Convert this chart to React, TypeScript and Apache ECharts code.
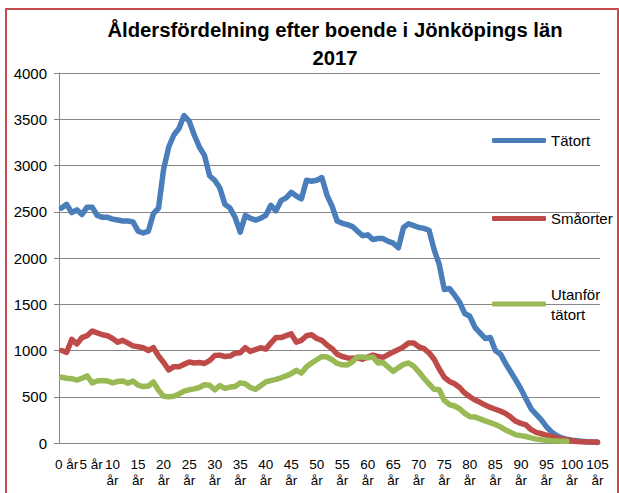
import React, { useEffect, useRef } from "react";
import * as echarts from "echarts";

const ages: number[] = Array.from({ length: 106 }, (_, i) => i);
const categories: string[] = ages.map((a) => `${a} år`);

const tatort: number[] = [
  2540, 2580, 2490, 2520, 2470, 2550, 2550, 2460, 2440, 2440,
  2420, 2410, 2400, 2400, 2390, 2290, 2270, 2290, 2480, 2540,
  2960, 3200, 3330, 3400, 3540, 3480, 3330, 3200, 3110, 2890,
  2840, 2760, 2580, 2540, 2440, 2280, 2460, 2430, 2410, 2430,
  2460, 2570, 2510, 2620, 2650, 2710, 2670, 2640, 2840, 2830,
  2840, 2870, 2680, 2560, 2400, 2375, 2360, 2340, 2290, 2240,
  2250, 2200, 2210, 2210, 2180, 2160, 2110, 2330, 2370, 2350,
  2330, 2320, 2300, 2090, 1930, 1660, 1670, 1600, 1520, 1400,
  1370, 1250, 1190, 1130, 1140, 1000, 960, 860, 770, 680,
  585, 475, 370, 310, 250, 176, 120, 80, 55, 40,
  30, 25, 18, 14, 10, 6,
];

const smaorter: number[] = [
  1000, 980, 1120, 1070, 1140, 1160, 1210, 1190, 1170, 1160,
  1130, 1090, 1110, 1080, 1050, 1040, 1030, 1000, 1030, 940,
  870, 790, 825, 825, 850, 875, 865, 870, 860, 890,
  945, 950, 935, 940, 970, 975, 1030, 990, 1010, 1030,
  1015, 1080, 1140, 1140, 1160, 1180, 1090, 1110, 1160, 1170,
  1130, 1110, 1060, 1020, 960, 935, 920, 915, 920, 905,
  930, 950, 935, 926, 955, 985, 1010, 1040, 1080, 1080,
  1040, 1020, 975, 905, 800, 710, 665, 640, 600, 540,
  500, 465, 440, 410, 385, 365, 345, 320, 280, 235,
  212, 195, 145, 115, 100, 86, 70, 58, 45, 33,
  25, 16, 13, 11, 10, 10,
];

const utanfor: (number | null)[] = [
  710, 700, 695, 680, 700, 725, 650, 670, 675, 670,
  650, 665, 670, 645, 670, 625, 610, 615, 660, 570,
  505, 500, 505, 530, 560, 575, 585, 600, 630, 625,
  575, 620, 590, 605, 610, 650, 640, 600, 580, 620,
  660, 675, 688, 705, 725, 750, 785, 755, 825, 865,
  900, 935, 930, 900, 860, 845, 843, 880, 930, 930,
  920, 930, 865, 869, 820, 775, 815, 850, 865, 830,
  770, 700, 640, 580, 575, 460, 415, 400, 370, 320,
  285, 280, 260, 240, 220, 200, 175, 140, 115, 88,
  80, 70, 55, 42, 35, 30, 25, 22, 20, 18,
  null, null, null, null, null, null,
];

const seriesNames: string[] = ["Tätort", "Småorter", "Utanför tätort"];
const yTicks = { min: 0, max: 4000, interval: 500 };

export default function App() {
  const ref = useRef<HTMLDivElement>(null);

  useEffect(() => {
    if (!ref.current) return;
    const chart = echarts.init(ref.current, undefined, { renderer: "svg" });
    const font = "Liberation Sans";
    const lineSeries = (name: string, data: (number | null)[], color: string) => ({
      name,
      type: "line",
      xAxisIndex: 0,
      data,
      symbol: "none",
      connectNulls: false,
      lineStyle: { width: 5.5, color, cap: "round", join: "round" },
      itemStyle: { color },
    });
    const legendBase = {
      left: 487,
      orient: "vertical",
      icon: "roundRect",
      itemWidth: 54,
      itemHeight: 5,
      textStyle: { fontFamily: font, fontSize: 15, color: "#000" },
    };
    const labelBase = { fontFamily: font, fontSize: 13.5, color: "#000" };
    chart.setOption({
      animation: false,
      title: {
        text: "Åldersfördelning efter boende i Jönköpings län\n2017",
        left: 330,
        top: 11,
        textAlign: "center",
        textStyle: {
          fontFamily: font,
          fontSize: 20.3,
          fontWeight: "bold",
          color: "#000",
          lineHeight: 28,
        },
      },
      legend: [
        { ...legendBase, top: 128, data: [seriesNames[0]] },
        { ...legendBase, top: 206, data: [seriesNames[1]] },
        {
          ...legendBase,
          top: 269,
          data: [seriesNames[2]],
          formatter: () => "Utanför\ntätort",
          textStyle: {
            fontFamily: font,
            fontSize: 15,
            color: "#000",
            lineHeight: 20,
            padding: [20, 0, 0, 0],
          },
        },
      ],
      grid: { left: 59, right: 19, top: 73, bottom: 50 },
      xAxis: [
        {
          type: "category",
          data: categories,
          boundaryGap: true,
          axisLine: { lineStyle: { color: "#868686", width: 1 } },
          axisTick: { interval: 0, length: 4, lineStyle: { color: "#868686" } },
          axisLabel: {
            ...labelBase,
            interval: (idx: number) => idx > 0 && idx % 5 === 0,
            margin: 13,
            lineHeight: 16,
            formatter: (_v: string, idx: number) => {
              if (idx === 5) return "{b|5 år}";
              return `${ages[idx]}\når`;
            },
            rich: {
              b: { ...labelBase, padding: [0, 0, 0, 8] },
            },
          },
          splitLine: { show: false },
        },
        {
          type: "category",
          data: categories,
          position: "bottom",
          boundaryGap: true,
          axisLine: { show: false },
          axisTick: { show: false },
          splitLine: { show: false },
          axisLabel: {
            ...labelBase,
            interval: (idx: number) => idx === 0,
            margin: 13,
            showMinLabel: true,
            showMaxLabel: false,
            lineHeight: 16,
            formatter: () => "{a|0 år}",
            rich: {
              a: { ...labelBase, padding: [0, 0, 0, 10] },
            },
          },
        },
      ],
      yAxis: {
        type: "value",
        min: yTicks.min,
        max: yTicks.max,
        interval: yTicks.interval,
        axisLine: { show: true, lineStyle: { color: "#868686", width: 1 } },
        axisTick: { show: true, length: 5, lineStyle: { color: "#868686" } },
        axisLabel: {
          fontFamily: font,
          fontSize: 15,
          color: "#000",
          margin: 12,
          formatter: (v: number) => String(v),
        },
        splitLine: { lineStyle: { color: "#868686", width: 1 } },
      },
      series: [
        lineSeries(seriesNames[0], tatort, "#4a7ebb"),
        lineSeries(seriesNames[1], smaorter, "#be4b48"),
        lineSeries(seriesNames[2], utanfor, "#98b954"),
      ],
    });
    return () => chart.dispose();
  }, []);

  return (
    <div style={{ position: "fixed", left: 0, top: 0, width: 619, height: 493, background: "#fff", overflow: "hidden" }}>
      <div ref={ref} style={{ position: "absolute", left: 0, top: 0, width: 619, height: 493 }} />
      <div
        style={{
          position: "absolute",
          left: 5,
          top: 8,
          width: 610,
          height: 500,
          border: "2px solid #c84a4a",
          pointerEvents: "none",
        }}
      />
    </div>
  );
}
